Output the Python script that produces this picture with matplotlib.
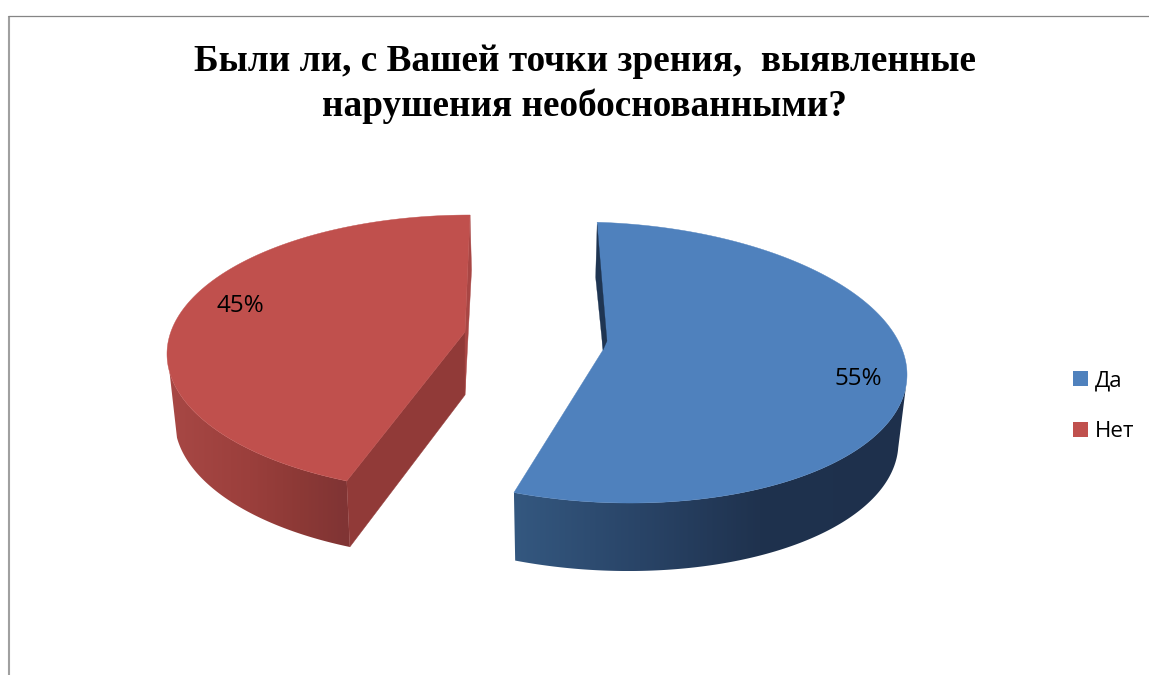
import numpy as np
import matplotlib
matplotlib.use("Agg")
import matplotlib.pyplot as plt
from matplotlib.patches import Polygon, Patch

# ---- data
categories = ["Да", "Нет"]
shares = [55, 45]
title_text = "Были ли, с Вашей точки зрения,  выявленные\nнарушения необоснованными?"

# ---- styling / layout (pixel-like canvas)
top_colors = ["#4F81BD", "#C0504D"]
side_stops = [
    [(514, (52, 88, 128)), (640, (41, 68, 103)), (760, (31, 50, 78)), (907, (30, 48, 76))],
    [(167, (168, 72, 69)), (250, (155, 63, 60)), (300, (140, 57, 54)), (346, (128, 52, 52))],
]
face_colors = ["#1F3552", "#913A38"]
centers = [(604, 362.5), (470, 354)]
apexes = [(603, 350), (465, 332)]
radii = [(303, 140), (303, 139)]
shear = [0.04, 0.0]
depth = [68, 66]
lower_scale = 0.975
lower_shift = [-1, 0]
arc_start = [-1.3, 204.0]      # parameter angle at which each slice starts
arc_scale = [1.003, 0.963]     # foreshortening of the sweep
wall_range = [(92, 400), (0, 263)]   # parameter angles where the outer wall shows
label_xy = [(858, 379), (240, 306)]

fig = plt.figure(figsize=(11.49, 6.75), dpi=100)
ax = fig.add_axes([0, 0, 1, 1])
ax.axis("off")

# frame
ax.plot([8.8, 8.8], [15.5, 675], color="#A0A0A0", lw=1.5, solid_capstyle="butt")
ax.plot([8, 1149], [15.5, 15.5], color="#858585", lw=0.9, solid_capstyle="butt")


def arc(i, sweep, scale=1.0, dy=0.0, dx=0.0, n=360):
    deg = np.linspace(arc_start[i], arc_start[i] + sweep, n)
    t = np.radians(deg)
    cx, cy = centers[i]
    a, b = radii[i]
    x = cx + dx + a * scale * np.sin(t)
    y = cy - b * np.cos(t) + shear[i] * a * np.sin(t) + dy
    return deg, x, y


for i, share in enumerate(shares):
    sweep = share * 3.6 * arc_scale[i]
    deg, x, y = arc(i, sweep)
    _, xl, yl = arc(i, sweep, lower_scale, depth[i], lower_shift[i])
    A = np.array(apexes[i], float)
    d = depth[i]

    # outer wall: horizontal gradient clipped to the wall outline
    m = (deg >= wall_range[i][0]) & (deg <= wall_range[i][1])
    outline = list(zip(x[m], y[m])) + list(zip(xl[m][::-1], yl[m][::-1]))
    wall = Polygon(outline, closed=True, transform=ax.transData, fc="none", ec="none")
    ax.add_patch(wall)
    x0, x1 = min(min(x[m]), min(xl[m])), max(max(x[m]), max(xl[m]))
    y0, y1 = min(min(y[m]), min(yl[m])), max(max(y[m]), max(yl[m]))
    gx = np.linspace(x0, x1, 400)
    stops_x = [s[0] for s in side_stops[i]]
    stops_c = np.array([s[1] for s in side_stops[i]], float) / 255
    grad = np.stack([np.interp(gx, stops_x, stops_c[:, c]) for c in range(3)], axis=-1)[None, :, :]
    im = ax.imshow(grad, extent=(x0, x1, y1, y0), aspect="auto", interpolation="bilinear", zorder=2)
    im.set_clip_path(wall)

    if i == 1:
        # cut faces, behind the top surface
        cut = [(x[0], y[0]), (xl[0], yl[0]), (A[0], A[1] + d - 3), (A[0], A[1])]
        ax.add_patch(Polygon(cut, closed=True, fc=face_colors[i], ec=face_colors[i], lw=0.3, zorder=2.5))
        far = [(x[-1], y[-1]), (x[-1] + 1.5, y[-1] + 55), (A[0], A[1] + d - 3), (A[0], A[1])]
        ax.add_patch(Polygon(far, closed=True, fc="#A84644", ec="#A84644", lw=0.3, zorder=2.5))

    verts = list(zip(x, y)) + [tuple(A)]
    ax.add_patch(Polygon(verts, closed=True, fc=top_colors[i], ec=top_colors[i], lw=0.3, zorder=3))

    if i == 0:
        # sliver of the far cut face, seen beyond the rim
        sliver = [(x[0], y[0] + 2), (x[0] - 1.5, y[0] + 55), (A[0], A[1]), (A[0] + 4, A[1] - 9)]
        ax.add_patch(Polygon(sliver, closed=True, fc=face_colors[i], ec=face_colors[i], lw=0.2, zorder=4))

    ax.text(label_xy[i][0], label_xy[i][1], f"{share}%", ha="center", va="center",
            fontsize=17.5, family="Open Sans", color="black", zorder=5)

# title
ax.text(584.5, 84, title_text, ha="center", va="center", family="Liberation Serif",
        fontweight="bold", fontsize=26.8, linespacing=1.37, color="black")

# legend
handles = [Patch(fc=c, ec="none") for c in top_colors]
ax.legend(handles, categories, loc="center left", bbox_to_anchor=(1073 / 1149, 1 - 406.5 / 675),
          frameon=False, borderpad=0, borderaxespad=0, handlelength=0.67, handleheight=0.67,
          handletextpad=0.32, labelspacing=1.33,
          prop={"family": "Open Sans", "size": 16})

ax.set_xlim(0, 1149)
ax.set_ylim(675, 0)
fig.savefig("out.png", dpi=100, facecolor="white")
